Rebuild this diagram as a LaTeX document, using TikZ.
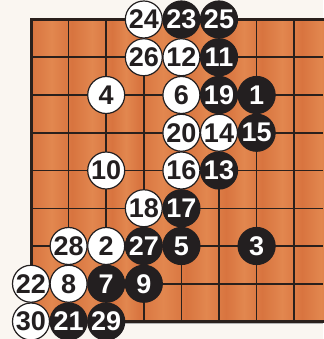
\documentclass[tikz,border=0pt]{standalone}
\usepackage{fontspec}
\setmainfont{Liberation Sans}
\definecolor{stoneblack}{HTML}{231F20}
\definecolor{linecol}{HTML}{2A201C}
\definecolor{bgcol}{HTML}{FAF6F1}
\definecolor{boardA}{HTML}{D8743F}
\definecolor{boardB}{HTML}{E2874F}
\begin{document}
\begin{tikzpicture}[x=1pt,y=-1pt,
  stone/.style={circle,minimum size=37pt,inner sep=0pt,line width=1.2pt,draw=stoneblack,
    font=\bfseries\fontsize{27}{27}\selectfont},
  wst/.style={stone,fill=white,text=stoneblack},
  bst/.style={stone,fill=stoneblack,text=white},
  gridline/.style={line width=1.5pt,draw=linecol},
  edgeline/.style={line width=3pt,draw=linecol,line join=miter}]
\useasboundingbox (0,0) rectangle (323,339);
\fill[bgcol] (0,0) rectangle (323,339);
% board
\fill[boardA] (31,19.5) rectangle (323,321.5);
\foreach \a/\b in {31/72,72/112,112/140,140/186,186/226,226/262,262/302,302/340}
  \shade[left color=boardA,right color=boardA,middle color=boardB] (\a,19.5) rectangle (\b,321.5);
\foreach \i in {1,...,7}
  \draw[gridline] ({31+37.6*\i},19.5) -- ({31+37.6*\i},321.5);
\foreach \j in {1,...,7}
  \draw[gridline] (31,{19.5+37.75*\j}) -- (323,{19.5+37.75*\j});
\draw[line width=1pt,gray!60] (31,323.6) -- (323,323.6);
\draw[edgeline] (324,19.5) -- (31,19.5) -- (31,321.5) -- (324,321.5);
% stones: number/col/row/style
\foreach \n/\c/\r/\s in {
  1/6/2/bst, 2/2/6/wst, 3/6/6/bst, 4/2/2/wst, 5/4/6/bst, 6/4/2/wst,
  7/2/7/bst, 8/1/7/wst, 9/3/7/bst, 10/2/4/wst, 11/5/1/bst, 12/4/1/wst,
  13/5/4/bst, 14/5/3/wst, 15/6/3/bst, 16/4/4/wst, 17/4/5/bst, 18/3/5/wst,
  19/5/2/bst, 20/4/3/wst, 21/1/8/bst, 22/0/7/wst, 23/4/0/bst, 24/3/0/wst,
  25/5/0/bst, 26/3/1/wst, 27/3/6/bst, 28/1/6/wst, 29/2/8/bst, 30/0/8/wst}
  \node[\s] (s\n) at ({31+37.6*\c},{19.5+37.75*\r}) {\n};
\end{tikzpicture}
\end{document}
